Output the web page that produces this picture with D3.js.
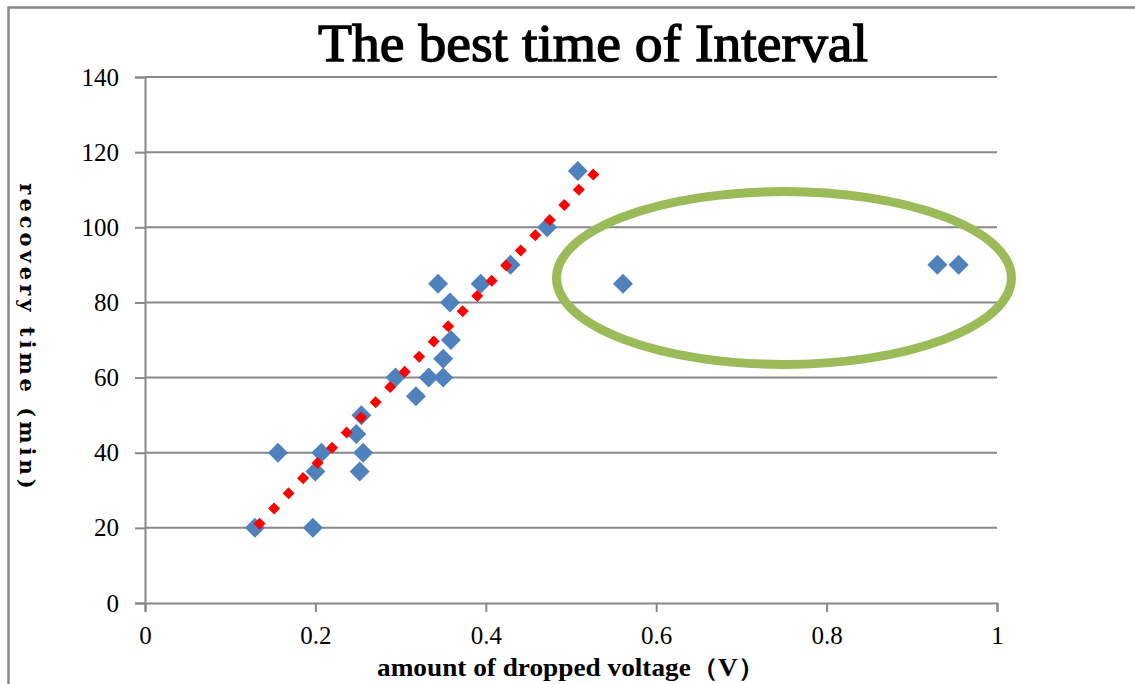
<!DOCTYPE html>
<html>
<head>
<meta charset="utf-8">
<script src="https://cdn.jsdelivr.net/npm/d3@7"></script>
<style>
  body { margin: 0; background: #fff; }
  svg { display: block; }
</style>
</head>
<body>
<div id="chart"></div>
<script>
var width = 1135;
var height = 684;

// measured values (volts, minutes)
var voltage = [0.129, 0.156, 0.197, 0.200, 0.207, 0.248, 0.252, 0.254, 0.256,
    0.294, 0.318, 0.333, 0.344, 0.350, 0.350, 0.358, 0.359, 0.394, 0.429,
    0.472, 0.508, 0.561, 0.930, 0.955];
var recovery = [20, 40, 20, 35, 40, 45, 35, 50, 40,
    60, 55, 60, 85, 60, 65, 80, 70, 85, 90,
    100, 115, 85, 90, 90];

// trend line end points
var trendX = [0.131, 0.537];
var trendY = [20.3, 116.6];

// the circled outliers: centre and radii in data units
var outlierCenter = [0.75, 86.5];
var outlierRadius = [0.267, 23];

var xTicks = [0, 0.2, 0.4, 0.6, 0.8, 1];
var yTicks = [0, 20, 40, 60, 80, 100, 120, 140];

var plotLeft = 145;
var plotRight = 997;
var plotTop = 77;
var plotBottom = 603;

var gridColor = '#888888';
var serif = '"Liberation Serif", "DejaVu Serif", serif';
var wideSerif = '"DejaVu Serif", serif';

var svg = d3.select('#chart').append('svg')
    .attr('width', width)
    .attr('height', height);

var x = d3.scaleLinear().domain([0, 1]).range([plotLeft, plotRight]);
var y = d3.scaleLinear().domain([0, 140]).range([plotBottom, plotTop]);

// outer frame
svg.append('path')
    .attr('d', 'M8.5,' + height + 'V7.5H' + width)
    .attr('fill', 'none')
    .attr('stroke', gridColor)
    .attr('stroke-width', 2.5);

// title
svg.append('text')
    .attr('x', 593)
    .attr('y', 61)
    .attr('text-anchor', 'middle')
    .attr('font-family', serif)
    .attr('font-size', '52px')
    .attr('stroke', '#000')
    .attr('stroke-width', 1.3)
    .attr('textLength', 550)
    .attr('lengthAdjust', 'spacingAndGlyphs')
    .attr('fill', '#000')
    .text('The best time of Interval');

// horizontal gridlines
svg.append('g').selectAll('line')
    .data(yTicks.slice(1))
    .enter()
    .append('line')
    .attr('x1', plotLeft)
    .attr('x2', plotRight)
    .attr('y1', function (d) { return y(d); })
    .attr('y2', function (d) { return y(d); })
    .attr('stroke', gridColor)
    .attr('stroke-width', 2);

// y axis
var yAxis = d3.axisLeft(y)
    .tickValues(yTicks)
    .tickSize(10)
    .tickPadding(16)
    .tickFormat(d3.format('d'));

var yAxisG = svg.append('g')
    .attr('transform', 'translate(' + plotLeft + ',0)')
    .call(yAxis);

// x axis
var xAxis = d3.axisBottom(x)
    .tickValues(xTicks)
    .tickSize(9)
    .tickPadding(14)
    .tickFormat(function (d) { return d === 0 || d === 1 ? String(d) : d.toFixed(1); });

var xAxisG = svg.append('g')
    .attr('transform', 'translate(0,' + plotBottom + ')')
    .call(xAxis);

[yAxisG, xAxisG].forEach(function (g) {
    g.select('.domain')
        .attr('stroke', gridColor)
        .attr('stroke-width', 2);
    g.selectAll('.tick line')
        .attr('stroke', gridColor)
        .attr('stroke-width', 2);
    g.selectAll('.tick text')
        .attr('font-family', serif)
        .attr('font-size', '25px')
        .attr('fill', '#000');
});

// axis titles
svg.append('text')
    .attr('x', 571)
    .attr('y', 676)
    .attr('text-anchor', 'middle')
    .attr('font-family', serif)
    .attr('font-size', '25px')
    .attr('font-weight', 'bold')
    .attr('textLength', 388)
    .attr('lengthAdjust', 'spacingAndGlyphs')
    .attr('fill', '#000')
    .text('amount of dropped voltage（V）');

svg.append('text')
    .attr('transform', 'translate(20,338) rotate(90)')
    .attr('text-anchor', 'middle')
    .attr('font-family', wideSerif)
    .attr('font-size', '21px')
    .attr('font-weight', 'bold')
    .attr('letter-spacing', '4px')
    .attr('fill', '#000')
    .text('recovery time (min)');

// data points as diamonds
var points = voltage.map(function (v, i) { return [v, recovery[i]]; });

svg.append('g').selectAll('path')
    .data(points)
    .enter()
    .append('path')
    .attr('d', d3.symbol().type(d3.symbolSquare).size(200))
    .attr('transform', function (d) {
        return 'translate(' + x(d[0]) + ',' + y(d[1]) + ') rotate(45)';
    })
    .attr('fill', '#4F81BD');

// dotted red trend line
var trendLine = d3.line()
    .x(function (d) { return x(d[0]); })
    .y(function (d) { return y(d[1]); });

svg.append('path')
    .datum(trendX.map(function (v, i) { return [v, trendY[i]]; }))
    .attr('d', trendLine)
    .attr('fill', 'none')
    .attr('stroke', '#FF0000')
    .attr('stroke-width', 8.5)
    .attr('stroke-dasharray', '8.5 12.5');

// green ellipse around the outliers
svg.append('ellipse')
    .attr('cx', x(outlierCenter[0]))
    .attr('cy', y(outlierCenter[1]))
    .attr('rx', x(outlierRadius[0]) - x(0))
    .attr('ry', y(0) - y(outlierRadius[1]))
    .attr('fill', 'none')
    .attr('stroke', '#9BBB59')
    .attr('stroke-width', 9);
</script>
</body>
</html>
